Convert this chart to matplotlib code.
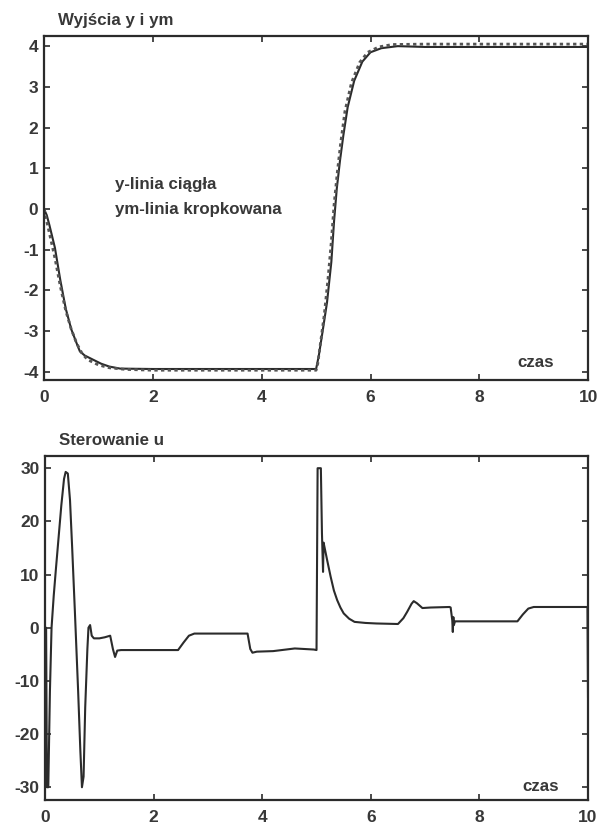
import numpy as np
import matplotlib.pyplot as plt

plt.rcParams['font.family'] = ['Liberation Sans', 'DejaVu Sans']
plt.rcParams['axes.unicode_minus'] = False

# wyjscie obiektu y (linia ciagla)
t_y = [0, 0.05, 0.1, 0.2, 0.3, 0.4, 0.5, 0.6, 0.66, 0.75, 0.9, 1.05, 1.2, 1.4, 2.0,
       3.0, 4.0, 5.0, 5.05, 5.12, 5.2, 5.28, 5.33, 5.38, 5.44, 5.5, 5.58, 5.7, 5.85,
       6.0, 6.2, 6.5, 7.0, 8.0, 9.0, 10.0]
y = [0, -0.15, -0.4, -0.95, -1.75, -2.45, -2.95, -3.3, -3.5, -3.6, -3.7, -3.8, -3.87,
     -3.92, -3.93, -3.93, -3.93, -3.93, -3.6, -3.0, -2.3, -1.3, -0.3, 0.5, 1.2, 1.8,
     2.5, 3.15, 3.62, 3.85, 3.95, 4.0, 3.98, 3.98, 3.98, 3.98]

# wyjscie modelu ym (linia kropkowana)
t_ym = [0, 0.05, 0.1, 0.2, 0.3, 0.4, 0.5, 0.6, 0.7, 0.8, 1.0, 1.2, 1.5, 2.0, 3.0, 4.0,
        5.0, 5.03, 5.08, 5.15, 5.22, 5.28, 5.33, 5.39, 5.45, 5.53, 5.65, 5.8, 5.95,
        6.15, 6.4, 7.0, 8.0, 9.0, 10.0]
ym = [0, -0.3, -0.6, -1.2, -1.9, -2.5, -2.95, -3.3, -3.55, -3.7, -3.83, -3.9, -3.94,
      -3.96, -3.96, -3.96, -3.96, -3.8, -3.3, -2.6, -1.7, -0.8, 0.1, 0.9, 1.6, 2.4,
      3.1, 3.6, 3.85, 3.98, 4.04, 4.05, 4.05, 4.05, 4.05]

# sterowanie u
t_u = [0, 0.02, 0.035, 0.06, 0.09, 0.12, 0.16, 0.2, 0.25, 0.3, 0.35, 0.38, 0.42, 0.46,
       0.5, 0.55, 0.61, 0.65, 0.68, 0.71, 0.74, 0.78, 0.8, 0.83, 0.86, 0.9, 1.0, 1.1,
       1.2, 1.25, 1.29, 1.33, 1.4, 2.45, 2.55, 2.65, 2.75, 3.0, 3.73, 3.78, 3.82, 3.9,
       4.2, 4.6, 4.95, 5.0, 5.02, 5.08, 5.1, 5.12, 5.13, 5.15, 5.2, 5.26, 5.32, 5.38,
       5.44, 5.5, 5.6, 5.7, 5.9, 6.1, 6.5, 6.6, 6.67, 6.75, 6.79, 6.85, 6.95, 7.1,
       7.45, 7.47, 7.5, 7.51, 7.52, 7.53, 7.55, 8.7, 8.8, 8.9, 9.0, 9.99, 10.0]
u = [0, 0, -30, -30, -12, 0, 6, 11, 17, 23, 28, 29.3, 29, 24, 15, 3, -12, -23, -30,
     -28, -15, -4, 0, 0.5, -1.5, -2, -2, -1.8, -1.5, -4, -5.5, -4.3, -4.2, -4.2, -2.8,
     -1.5, -1.1, -1.1, -1.1, -4, -4.7, -4.5, -4.4, -3.9, -4.1, -4.2, 30, 30, 17.8,
     10.5, 16, 15, 12.5, 9.6, 7, 5.2, 3.8, 2.7, 1.7, 1.1, 0.9, 0.8, 0.7, 1.8, 3.0,
     4.5, 5.0, 4.6, 3.7, 3.8, 3.9, 3.8, 1.4, -0.8, 2.0, 0.5, 1.2, 1.2, 2.5, 3.6, 3.9,
     3.9, -13]

x_ticks = [0, 2, 4, 6, 8, 10]
y_ticks_top = [-4, -3, -2, -1, 0, 1, 2, 3, 4]
y_ticks_bot = [-30, -20, -10, 0, 10, 20, 30]

ink = '#2b2b2b'
txt = '#383838'

fig = plt.figure(figsize=(5.98, 8.25), dpi=100)
ax1 = fig.add_axes([0.0736, 0.5394, 0.910, 0.417])
ax2 = fig.add_axes([0.0753, 0.0303, 0.908, 0.417])

ax1.plot(t_y, y, color=ink, linewidth=1.5)
ax1.plot(t_ym, ym, color='#555555', linewidth=2.0, linestyle=(0, (1.2, 1.2)))
ax1.set_xlim(0, 10)
ax1.set_ylim(-4.2, 4.25)
ax1.set_yticks(y_ticks_top)

ax2.plot(t_u, u, color=ink, linewidth=1.5)
ax2.set_xlim(0, 10)
ax2.set_ylim(-32.4, 32.3)
ax2.set_yticks(y_ticks_bot)

for ax in (ax1, ax2):
    ax.set_xticks(x_ticks)
    ax.tick_params(direction='in', length=4, width=1.2, top=True, right=True,
                   colors=ink, labelsize=12.5)
    ax.tick_params(axis='x', pad=7)
    ax.tick_params(axis='y', pad=4)
    for lab in ax.get_xticklabels() + ax.get_yticklabels():
        lab.set_fontweight('bold')
        lab.set_color(txt)
    for s in ax.spines.values():
        s.set_linewidth(1.6)
        s.set_color(ink)

font = dict(fontsize=12.2, fontweight='bold', color=txt)
ax1.text(0.026, 1.022, 'Wyjścia y i ym', transform=ax1.transAxes,
         va='bottom', ha='left', **font)
ax2.text(0.026, 1.022, 'Sterowanie u', transform=ax2.transAxes,
         va='bottom', ha='left', **font)
ax1.text(1.3, 0.6, 'y-linia ciągła', va='center', ha='left', **font)
ax1.text(1.3, -0.02, 'ym-linia kropkowana', va='center', ha='left', **font)
ax1.text(0.904, 0.052, 'czas', transform=ax1.transAxes, va='center',
         ha='center', **font)
ax2.text(0.912, 0.04, 'czas', transform=ax2.transAxes, va='center',
         ha='center', **font)

fig.savefig('out.png', dpi=100)
